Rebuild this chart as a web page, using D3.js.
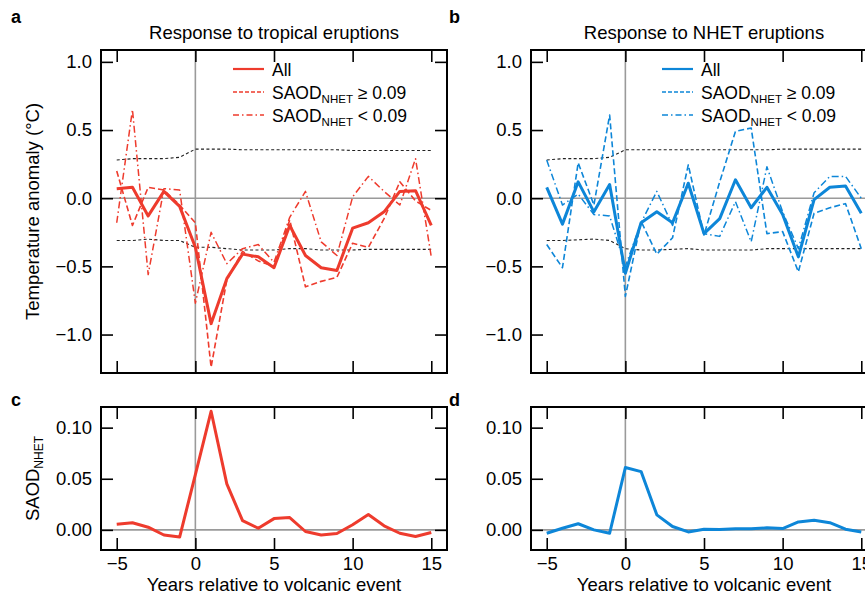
<!DOCTYPE html>
<html><head><meta charset="utf-8">
<script src="https://cdn.jsdelivr.net/npm/d3@7"></script>
<style>
body{margin:0;background:#fff}
svg{display:block}
text{font-family:"Liberation Sans",Arial,Helvetica,sans-serif;fill:#000}
</style>
</head><body>
<svg id="chart" width="865" height="597"></svg>
<script>
// ---- data ----
const years = [-5,-4,-3,-2,-1,0,1,2,3,4,5,6,7,8,9,10,11,12,13,14,15];

const tropAll   = [0.07,0.08,-0.13,0.05,-0.06,-0.36,-0.92,-0.59,-0.41,-0.43,-0.51,-0.20,-0.42,-0.51,-0.53,-0.22,-0.18,-0.10,0.05,0.055,-0.20];
const tropHigh  = [0.20,-0.20,0.08,0.06,-0.05,-0.18,-1.24,-0.60,-0.39,-0.46,-0.50,-0.16,-0.65,-0.61,-0.58,-0.33,-0.36,-0.15,0.12,-0.02,-0.09];
const tropLow   = [-0.18,0.65,-0.56,0.07,0.06,-0.77,-0.25,-0.48,-0.37,-0.34,-0.47,-0.14,0.05,-0.32,-0.42,0.01,0.16,0.05,-0.05,0.29,-0.43];
const tropUpper = [0.28,0.29,0.29,0.29,0.30,0.36,0.36,0.36,0.355,0.355,0.355,0.355,0.355,0.355,0.355,0.35,0.35,0.35,0.35,0.35,0.35];
const tropLower = [-0.31,-0.31,-0.30,-0.31,-0.31,-0.36,-0.36,-0.37,-0.38,-0.38,-0.38,-0.37,-0.37,-0.38,-0.38,-0.38,-0.375,-0.375,-0.375,-0.375,-0.375];

const nhetAll   = [0.08,-0.19,0.12,-0.10,0.10,-0.55,-0.18,-0.10,-0.18,0.11,-0.26,-0.15,0.135,-0.07,0.08,-0.12,-0.43,-0.01,0.08,0.09,-0.11];
const nhetHigh  = [-0.34,-0.51,0.26,-0.05,0.61,-0.72,-0.17,-0.41,-0.29,0.245,-0.27,0.12,0.49,0.515,-0.26,-0.245,-0.54,-0.11,-0.07,-0.04,-0.37];
const nhetLow   = [0.28,-0.05,0.03,-0.12,-0.13,-0.50,-0.18,0.05,-0.20,0.12,-0.26,-0.28,-0.025,-0.32,0.23,-0.10,-0.37,0.04,0.16,0.16,0.0];
const nhetUpper = [0.28,0.29,0.29,0.29,0.30,0.355,0.355,0.355,0.355,0.355,0.355,0.355,0.355,0.355,0.355,0.36,0.36,0.36,0.36,0.36,0.36];
const nhetLower = [-0.31,-0.31,-0.305,-0.30,-0.31,-0.37,-0.38,-0.38,-0.375,-0.37,-0.38,-0.38,-0.38,-0.38,-0.37,-0.37,-0.37,-0.37,-0.37,-0.37,-0.37];

const tropSaod = [0.0055,0.007,0.0026,-0.005,-0.007,0.054,0.116,0.045,0.009,0.0016,0.011,0.012,-0.0016,-0.005,-0.0036,0.005,0.015,0.004,-0.0033,-0.0065,-0.0026];
const nhetSaod = [-0.0033,0.0016,0.006,0.0,-0.0033,0.061,0.057,0.0147,0.0033,-0.002,0.0007,0.0003,0.001,0.001,0.002,0.0013,0.0078,0.0095,0.007,0.0007,-0.002];

const xTicks = [-5,0,5,10,15];
const xTickLabels = ["\u22125","0","5","10","15"];
const tempTicks = [1.0,0.5,0.0,-0.5,-1.0];
const tempTickLabels = ["1.0","0.5","0.0","\u22120.5","\u22121.0"];
const saodTicks = [0.10,0.05,0.00];
const saodTickLabels = ["0.10","0.05","0.00"];

const titles = ["Response to tropical eruptions","Response to NHET eruptions"];
const panelLetters = ["a","b","c","d"];
const legendNames = ["All","SAOD","SAOD"];
const legendSuffix = [""," \u2265 0.09"," < 0.09"];

// ---- styles ----
const RED = "#ee3b2d", BLUE = "#0d86d8";
const FS = 18.5, FSL = 17.5;
const svg = d3.select("#chart");

function panel(opt){
  const g = svg.append("g");
  const x = d3.scaleLinear().domain([-6,16]).range([opt.x0,opt.x1]);
  const y = d3.scaleLinear().domain(opt.ydom).range([opt.y1,opt.y0]);
  g.append("line").attr("x1",x(0)).attr("x2",x(0)).attr("y1",opt.y0).attr("y2",opt.y1)
    .attr("stroke","#9a9a9a").attr("stroke-width",1.6);
  g.append("line").attr("x1",opt.x0).attr("x2",opt.x1).attr("y1",y(0)).attr("y2",y(0))
    .attr("stroke","#9a9a9a").attr("stroke-width",1.6);
  const line = d3.line().x((d,i)=>x(years[i])).y(d=>y(d));
  (opt.series||[]).forEach(s=>{
    g.append("path").attr("d",line(s.data)).attr("fill","none")
      .attr("stroke",s.color).attr("stroke-width",s.w)
      .attr("stroke-dasharray",s.dash||null)
      .attr("stroke-linejoin","round");
  });
  g.append("rect").attr("x",opt.x0).attr("y",opt.y0).attr("width",opt.x1-opt.x0).attr("height",opt.y1-opt.y0)
    .attr("fill","none").attr("stroke","#000").attr("stroke-width",2);
  const T = 12;
  const axB = d3.axisBottom(x).tickValues(xTicks).tickSize(-T).tickPadding(7)
      .tickFormat((d,i)=>opt.xLabels?xTickLabels[i]:"");
  const axT = d3.axisTop(x).tickValues(xTicks).tickSize(-T).tickFormat("");
  const axL = d3.axisLeft(y).tickValues(opt.yticks).tickSize(-T).tickPadding(9)
      .tickFormat((d,i)=>opt.ylabels[i]);
  const axR = d3.axisRight(y).tickValues(opt.yticks).tickSize(-T).tickFormat("");
  [[axB,`translate(0,${opt.y1})`],[axT,`translate(0,${opt.y0})`],[axL,`translate(${opt.x0},0)`],[axR,`translate(${opt.x1},0)`]]
    .forEach(([ax,tr])=>{
      const a = g.append("g").attr("transform",tr).call(ax);
      a.select(".domain").remove();
      a.selectAll(".tick line").attr("stroke","#000").attr("stroke-width",1.6);
      a.selectAll(".tick text").attr("font-size",FS).attr("font-family","Liberation Sans, Arial, sans-serif").attr("fill","#000");
    });
  if(opt.legend){
    const lx = opt.legend.x, rows=[69,92,115];
    opt.legendStyles.forEach((s,i)=>{
      g.append("line").attr("x1",lx).attr("x2",lx+31).attr("y1",rows[i]).attr("y2",rows[i])
        .attr("stroke",s.color).attr("stroke-width",s.lw).attr("stroke-dasharray",s.dash||null);
      const t = g.append("text").attr("x",lx+39).attr("y",rows[i]+6.5).attr("font-size",FSL);
      t.append("tspan").text(legendNames[i]);
      if(i>0){
        t.append("tspan").attr("font-size",11.5).attr("dy",4).text("NHET");
        t.append("tspan").attr("dy",-4).text(legendSuffix[i]);
      }
    });
  }
  return {x,y,g};
}

const tempDom = [-1.282,1.087];
const saodDom = [-0.0197,0.1202];
const DASH = "6,3", DOTDASH = "7,3,1.5,3", BAND = "3,2.4";

function tempSeries(color, all, high, low, up, lo){
  return [
    {data:up,color:"#222",w:1.1,dash:BAND},
    {data:lo,color:"#222",w:1.1,dash:BAND},
    {data:low,color:color,w:1.5,dash:DOTDASH},
    {data:high,color:color,w:1.6,dash:DASH},
    {data:all,color:color,w:3}
  ];
}
function legendStyles(color){
  return [{color,lw:2.2},{color,lw:1.5,dash:"4,2"},{color,lw:1.5,dash:"6,3,1.5,3"}];
}

panel({x0:101,x1:447,y0:50,y1:373,ydom:tempDom,yticks:tempTicks,ylabels:tempTickLabels,
  series:tempSeries(RED,tropAll,tropHigh,tropLow,tropUpper,tropLower),
  legend:{x:233},legendStyles:legendStyles(RED)});
panel({x0:531,x1:877,y0:50,y1:373,ydom:tempDom,yticks:tempTicks,ylabels:tempTickLabels,
  series:tempSeries(BLUE,nhetAll,nhetHigh,nhetLow,nhetUpper,nhetLower),
  legend:{x:662},legendStyles:legendStyles(BLUE)});
panel({x0:101,x1:447,y0:407,y1:550,ydom:saodDom,yticks:saodTicks,ylabels:saodTickLabels,xLabels:true,
  series:[{data:tropSaod,color:RED,w:3}]});
panel({x0:531,x1:877,y0:407,y1:550,ydom:saodDom,yticks:saodTicks,ylabels:saodTickLabels,xLabels:true,
  series:[{data:nhetSaod,color:BLUE,w:3}]});

svg.append("text").attr("x",274).attr("y",39).attr("text-anchor","middle").attr("font-size",FS).text(titles[0]);
svg.append("text").attr("x",704).attr("y",39).attr("text-anchor","middle").attr("font-size",FS).text(titles[1]);
[[11,23],[449,23],[11,406],[449,406]].forEach((p,i)=>{
  svg.append("text").attr("x",p[0]).attr("y",p[1]).attr("font-size",18).attr("font-weight","bold").text(panelLetters[i]);
});
svg.append("text").attr("transform","translate(39,211.5) rotate(-90)").attr("text-anchor","middle")
  .attr("font-size",FS).text("Temperature anomaly (\u00B0C)");
const sl = svg.append("text").attr("transform","translate(39,478.5) rotate(-90)").attr("text-anchor","middle")
  .attr("font-size",FS);
sl.append("tspan").text("SAOD");
sl.append("tspan").attr("font-size",12).attr("dy",4).text("NHET");
svg.append("text").attr("x",274).attr("y",591).attr("text-anchor","middle").attr("font-size",FS).text("Years relative to volcanic event");
svg.append("text").attr("x",704).attr("y",591).attr("text-anchor","middle").attr("font-size",FS).text("Years relative to volcanic event");
</script>
</body></html>
